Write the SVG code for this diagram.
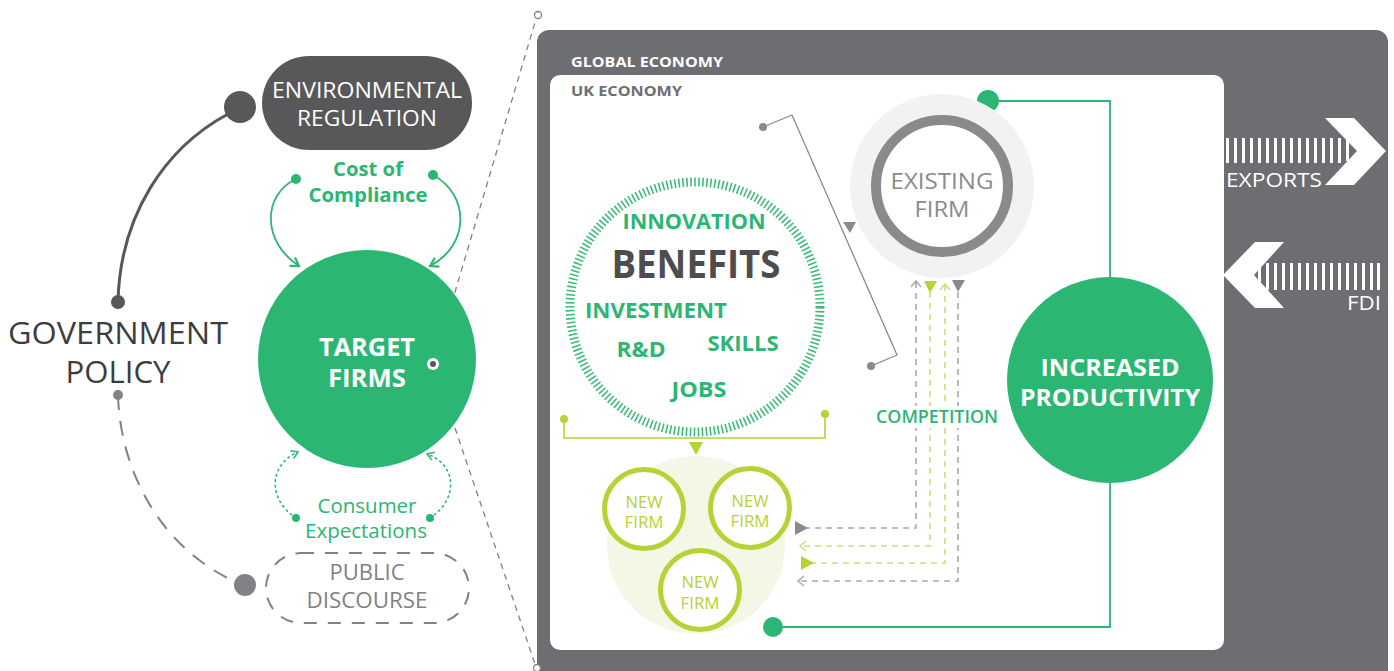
<svg xmlns="http://www.w3.org/2000/svg" width="1394" height="671" viewBox="0 0 1394 671">
<defs>
<style>
text{font-family:"Open Sans","Noto Sans","DejaVu Sans",sans-serif;text-anchor:middle}
.b{font-weight:bold}
.w{fill:#ffffff}
.g{fill:#2bb673}
.lime{fill:#b5d334}
.gr{fill:#8a8a8d}
.dash{fill:none;stroke:#808285;stroke-width:1.3;stroke-dasharray:6 5}
.cg{fill:none;stroke:#a7a9ac;stroke-width:1.6;stroke-dasharray:6 5}
.cl{fill:none;stroke:#c9e07a;stroke-width:1.6;stroke-dasharray:6 5}
.gl{fill:none;stroke:#2bb673;stroke-width:1.8}
</style>
<marker id="chevG" viewBox="0 0 12 12" refX="10" refY="6" markerWidth="12" markerHeight="12" markerUnits="userSpaceOnUse" orient="auto">
<path d="M2,1 L10,6 L2,11" fill="none" stroke="#2bb673" stroke-width="2.2"/>
</marker>
<marker id="chevS" viewBox="0 0 12 12" refX="10" refY="6" markerWidth="10" markerHeight="10" markerUnits="userSpaceOnUse" orient="auto">
<path d="M2,1 L10,6 L2,11" fill="none" stroke="#2bb673" stroke-width="1.8"/>
</marker>
</defs>
<rect width="1394" height="671" fill="#ffffff"/>

<g id="global-economy">
<rect x="537" y="30" width="851" height="660" rx="12" fill="#6d6e71"/>
<text x="571" y="67" class="b w" style="font-size:15px;text-anchor:start" textLength="152" lengthAdjust="spacingAndGlyphs">GLOBAL ECONOMY</text>
</g>
<g id="uk-economy">
<rect x="550" y="75" width="674" height="575" rx="10" fill="#ffffff"/>
<text x="571" y="96" class="b" style="font-size:15px;text-anchor:start;fill:#6d6e71" textLength="111" lengthAdjust="spacingAndGlyphs">UK ECONOMY</text>
</g>

<g id="connectors">
<path d="M228,114 C165,148 120,215 118,302" fill="none" stroke="#58585a" stroke-width="3"/>
<circle cx="118" cy="302" r="7" fill="#58585a"/>
<circle cx="118" cy="395" r="5" fill="#808285"/>
<path d="M118,395 C120,470 160,548 236,582" fill="none" stroke="#808285" stroke-width="2" stroke-dasharray="15 11"/>
<circle cx="245" cy="585" r="11" fill="#808285"/>
<circle cx="296" cy="179" r="5" fill="#2bb673"/>
<path d="M296,179 C262,195 262,242 299,266" fill="none" stroke="#2bb673" stroke-width="1.8" marker-end="url(#chevG)"/>
<circle cx="433" cy="175" r="5" fill="#2bb673"/>
<path d="M433,175 C470,195 470,245 430,266" fill="none" stroke="#2bb673" stroke-width="1.8" marker-end="url(#chevG)"/>
<circle cx="296" cy="518" r="4" fill="#2bb673"/>
<path d="M296,518 C268,500 268,465 298,452" fill="none" stroke="#2bb673" stroke-width="1.6" stroke-dasharray="1.5 4" stroke-linecap="round" marker-end="url(#chevS)"/>
<circle cx="430" cy="518" r="4" fill="#2bb673"/>
<path d="M430,518 C458,500 458,465 427,454" fill="none" stroke="#2bb673" stroke-width="1.6" stroke-dasharray="1.5 4" stroke-linecap="round" marker-end="url(#chevS)"/>
<path d="M436,356 L536,19" class="dash"/>
<circle cx="538" cy="15" r="3.5" fill="#ffffff" stroke="#808285" stroke-width="1.3"/>
<path d="M455,428 L535,664" class="dash"/>
<circle cx="537" cy="668" r="3.5" fill="#ffffff" stroke="#808285" stroke-width="1.3"/>
<path d="M564,419 V438 H825 V414" fill="none" stroke="#b5d334" stroke-width="1.6"/>
<circle cx="564" cy="419" r="4" fill="#b5d334"/>
<circle cx="825" cy="414" r="4" fill="#b5d334"/>
<polygon points="689,442 703,442 696,455" fill="#b5d334"/>
<circle cx="763" cy="127" r="4" fill="#8a8a8d"/>
<path d="M763,127 L792,115 L897,355 L871,366" fill="none" stroke="#8a8a8d" stroke-width="1.3"/>
<circle cx="871" cy="366" r="4" fill="#8a8a8d"/>
<polygon points="843,222 856,222 850,233" fill="#8a8a8d"/>
<path d="M988,101 H1110 V277" class="gl"/>
<circle cx="988" cy="101" r="11" fill="#2bb673"/>
<path d="M1110,483 V627 H773" class="gl"/>
<circle cx="773" cy="627" r="10" fill="#2bb673"/>
<path d="M916,282 V528 H806" class="cg"/>
<polyline points="911,287 916,281 921,287" fill="none" stroke="#a7a9ac" stroke-width="1.5"/>
<polygon points="795,521 808,528 795,535" fill="#8a8a8d"/>
<path d="M930,292 V546 H802" class="cl"/>
<polygon points="924,281 937,281 930,293" fill="#b5d334"/>
<polyline points="806,541 800,546 806,551" fill="none" stroke="#c9e07a" stroke-width="1.6"/>
<path d="M945,285 V563 H812" class="cl"/>
<polyline points="940,290 945,284 950,290" fill="none" stroke="#c9e07a" stroke-width="1.6"/>
<polygon points="801,556 814,563 801,570" fill="#b5d334"/>
<path d="M958,292 V581 H800" class="cg"/>
<polygon points="952,280 965,280 958,292" fill="#8a8a8d"/>
<polyline points="804,576 798,581 804,586" fill="none" stroke="#a7a9ac" stroke-width="1.5"/>
<rect x="874" y="406" width="126" height="22" fill="#ffffff"/>
<text x="937" y="423" class="g" style="font-size:18px;font-weight:600" textLength="122" lengthAdjust="spacingAndGlyphs">COMPETITION</text>
</g>

<g id="environmental-regulation">
<circle cx="240" cy="107" r="16" fill="#58585a"/>
<rect x="262" y="56" width="210" height="94" rx="47" fill="#58585a"/>
<text x="367" y="98" class="w" style="font-size:22px" textLength="190" lengthAdjust="spacingAndGlyphs">ENVIRONMENTAL</text>
<text x="367" y="126" class="w" style="font-size:22px" textLength="140" lengthAdjust="spacingAndGlyphs">REGULATION</text>
</g>

<g id="cost-of-compliance">
<text x="368" y="176" class="b g" style="font-size:19px" textLength="70" lengthAdjust="spacingAndGlyphs">Cost of</text>
<text x="368" y="202" class="b g" style="font-size:19px" textLength="119" lengthAdjust="spacingAndGlyphs">Compliance</text>
</g>

<g id="government-policy">
<text x="118" y="344" style="font-size:31px;fill:#3d3d3f" textLength="220" lengthAdjust="spacingAndGlyphs">GOVERNMENT</text>
<text x="118" y="383" style="font-size:31px;fill:#3d3d3f" textLength="105" lengthAdjust="spacingAndGlyphs">POLICY</text>
</g>

<g id="target-firms">
<circle cx="367" cy="359" r="109" fill="#2bb673"/>
<text x="367" y="356" class="b w" style="font-size:25px" textLength="96" lengthAdjust="spacingAndGlyphs">TARGET</text>
<text x="367" y="387" class="b w" style="font-size:25px" textLength="78" lengthAdjust="spacingAndGlyphs">FIRMS</text>
<circle cx="433" cy="364" r="6" fill="#ffffff"/>
<circle cx="433" cy="364" r="3" fill="#58585a"/>
</g>

<g id="consumer-expectations">
<text x="367" y="513" class="g" style="font-size:20px" textLength="99" lengthAdjust="spacingAndGlyphs">Consumer</text>
<text x="366" y="538" class="g" style="font-size:20px" textLength="122" lengthAdjust="spacingAndGlyphs">Expectations</text>
</g>

<g id="public-discourse">
<rect x="266" y="553" width="203" height="70" rx="35" fill="none" stroke="#808285" stroke-width="2" stroke-dasharray="13 11"/>
<text x="367" y="580" style="font-size:22px;fill:#808285" textLength="75" lengthAdjust="spacingAndGlyphs">PUBLIC</text>
<text x="367" y="608" style="font-size:22px;fill:#808285" textLength="121" lengthAdjust="spacingAndGlyphs">DISCOURSE</text>
</g>

<g id="benefits">
<circle cx="695" cy="307" r="125" fill="none" stroke="#3dbb7a" stroke-width="9" stroke-dasharray="1.6 2.4"/>
<text x="694" y="229" class="b g" style="font-size:22px" textLength="143" lengthAdjust="spacingAndGlyphs">INNOVATION</text>
<text x="696" y="278" class="b" style="font-size:40px;fill:#4d4d4f" textLength="169" lengthAdjust="spacingAndGlyphs">BENEFITS</text>
<text x="656" y="318" class="b g" style="font-size:22px" textLength="142" lengthAdjust="spacingAndGlyphs">INVESTMENT</text>
<text x="641" y="357" class="b g" style="font-size:22px" textLength="49" lengthAdjust="spacingAndGlyphs">R&amp;D</text>
<text x="743" y="351" class="b g" style="font-size:22px" textLength="71" lengthAdjust="spacingAndGlyphs">SKILLS</text>
<text x="699" y="397" class="b g" style="font-size:22px" textLength="55" lengthAdjust="spacingAndGlyphs">JOBS</text>
</g>

<g id="new-firms">
<circle cx="696" cy="545" r="89" fill="#f3f8e6"/>
<circle cx="644" cy="509" r="39.5" fill="#ffffff" stroke="#b5d334" stroke-width="5"/>
<text x="644" y="508" class="lime" style="font-size:16px" textLength="37" lengthAdjust="spacingAndGlyphs">NEW</text>
<text x="644" y="528" class="lime" style="font-size:16px" textLength="39" lengthAdjust="spacingAndGlyphs">FIRM</text>
<circle cx="750" cy="508" r="39.5" fill="#ffffff" stroke="#b5d334" stroke-width="5"/>
<text x="750" y="507" class="lime" style="font-size:16px" textLength="37" lengthAdjust="spacingAndGlyphs">NEW</text>
<text x="750" y="527" class="lime" style="font-size:16px" textLength="39" lengthAdjust="spacingAndGlyphs">FIRM</text>
<circle cx="700" cy="590" r="39.5" fill="#ffffff" stroke="#b5d334" stroke-width="5"/>
<text x="700" y="588" class="lime" style="font-size:16px" textLength="37" lengthAdjust="spacingAndGlyphs">NEW</text>
<text x="700" y="609" class="lime" style="font-size:16px" textLength="39" lengthAdjust="spacingAndGlyphs">FIRM</text>
</g>

<g id="existing-firm">
<circle cx="942" cy="186" r="92" fill="#f1f2f2"/>
<circle cx="942" cy="186" r="66" fill="#ffffff" stroke="#8a8a8d" stroke-width="10"/>
<text x="942" y="189" class="gr" style="font-size:21px" textLength="103" lengthAdjust="spacingAndGlyphs">EXISTING</text>
<text x="942" y="217" class="gr" style="font-size:21px" textLength="55" lengthAdjust="spacingAndGlyphs">FIRM</text>
</g>

<g id="increased-productivity">
<circle cx="1110" cy="380" r="103" fill="#2bb673"/>
<text x="1110" y="376" class="b w" style="font-size:23px" textLength="139" lengthAdjust="spacingAndGlyphs">INCREASED</text>
<text x="1110" y="406" class="b w" style="font-size:23px" textLength="180" lengthAdjust="spacingAndGlyphs">PRODUCTIVITY</text>
</g>

<g id="exports" fill="#ffffff">
<rect x="1226" y="138" width="3" height="25"/><rect x="1234" y="138" width="3" height="25"/><rect x="1242" y="138" width="3" height="25"/><rect x="1250" y="138" width="3" height="25"/><rect x="1258" y="138" width="3" height="25"/><rect x="1266" y="138" width="3" height="25"/><rect x="1274" y="138" width="3" height="25"/><rect x="1282" y="138" width="3" height="25"/><rect x="1290" y="138" width="3" height="25"/><rect x="1298" y="138" width="3" height="25"/><rect x="1306" y="138" width="3" height="25"/><rect x="1314" y="138" width="3" height="25"/><rect x="1322" y="138" width="3" height="25"/><rect x="1330" y="138" width="3" height="25"/><rect x="1338" y="138" width="3" height="25"/><rect x="1346" y="140" width="3" height="21"/>
<polygon points="1325,118 1354,118 1386,151 1354,185 1325,185 1357,151"/>
<text x="1226" y="187" class="w" style="font-size:20px;text-anchor:start" textLength="96" lengthAdjust="spacingAndGlyphs">EXPORTS</text>
</g>

<g id="fdi" fill="#ffffff">
<rect x="1258" y="263" width="3" height="27"/><rect x="1266" y="263" width="3" height="27"/><rect x="1274" y="263" width="3" height="27"/><rect x="1282" y="263" width="3" height="27"/><rect x="1290" y="263" width="3" height="27"/><rect x="1298" y="263" width="3" height="27"/><rect x="1306" y="263" width="3" height="27"/><rect x="1314" y="263" width="3" height="27"/><rect x="1322" y="263" width="3" height="27"/><rect x="1330" y="263" width="3" height="27"/><rect x="1338" y="263" width="3" height="27"/><rect x="1346" y="263" width="3" height="27"/><rect x="1354" y="263" width="3" height="27"/><rect x="1362" y="263" width="3" height="27"/><rect x="1370" y="263" width="3" height="27"/><rect x="1377" y="263" width="3" height="27"/>
<polygon points="1223,275 1255,242 1284,242 1254,275 1284,308 1255,308"/>
<text x="1381" y="310" class="w" style="font-size:20px;text-anchor:end" textLength="34" lengthAdjust="spacingAndGlyphs">FDI</text>
</g>
</svg>
